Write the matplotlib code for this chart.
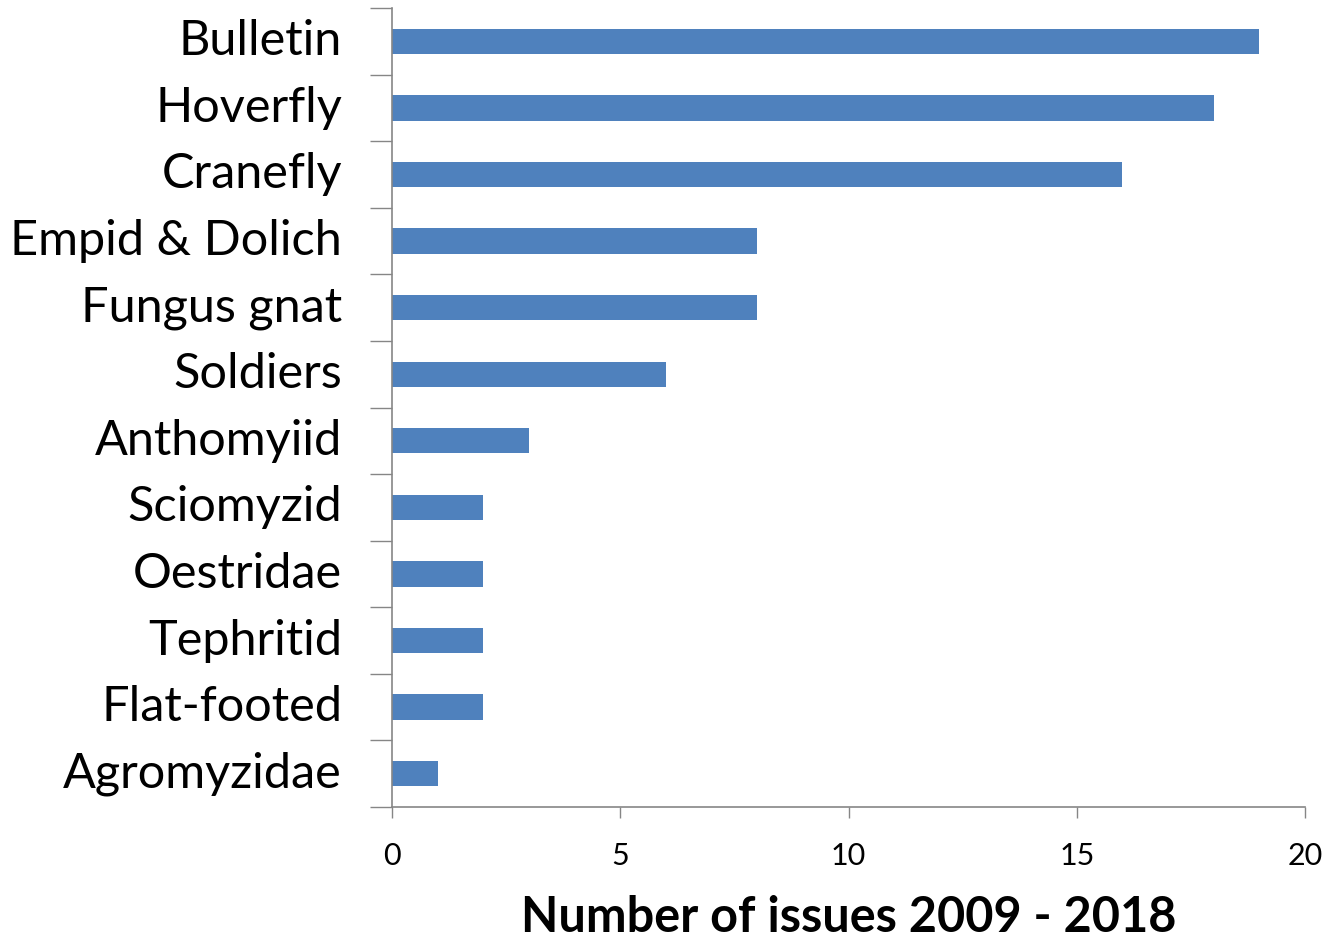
import matplotlib.pyplot as plt
import matplotlib.transforms as mtransforms
import numpy as np

# 데이터
categories = ["Bulletin", "Hoverfly", "Cranefly", "Empid & Dolich", "Fungus gnat",
              "Soldiers", "Anthomyiid", "Sciomyzid", "Oestridae", "Tephritid",
              "Flat-footed", "Agromyzidae"]
issues = [19, 18, 16, 8, 8, 6, 3, 2, 2, 2, 2, 1]
xticks = [0, 5, 10, 15, 20]

axis_grey = "#868686"
bar_blue = "#4F81BD"

fig = plt.figure(figsize=(13.29, 9.41), dpi=100)
ax = fig.add_axes([0.295, 0.1424, 0.687, 0.8491])

# 위에서부터 순서대로 그리기
ypos = np.arange(len(categories))[::-1]
ax.barh(ypos, issues, height=0.38, color=bar_blue)

ax.set_xlim(0, 20)
ax.set_ylim(-0.5, len(categories) - 0.5)

# x축
ax.set_xticks(xticks)
ax.set_xticklabels([str(t) for t in xticks], family=["Lato", "DejaVu Sans"], fontsize=22)
ax.tick_params(axis="x", direction="out", length=8, width=1, color=axis_grey, pad=17)

# y축: 눈금은 경계에, 라벨은 가운데에
ax.set_yticks(np.arange(-0.5, len(categories), 1.0))
ax.set_yticklabels([])
ax.tick_params(axis="y", which="major", direction="out", length=16, width=1, color=axis_grey)
ax.set_yticks(ypos, minor=True)
ax.set_yticklabels(categories, minor=True, family=["Lato", "DejaVu Sans"], fontsize=35)
ax.tick_params(axis="y", which="minor", length=0, pad=36)

shift = mtransforms.ScaledTranslation(0, 4 / 100, fig.dpi_scale_trans)
for lab in ax.get_yticklabels(minor=True):
    lab.set_transform(lab.get_transform() + shift)

for s in ["top", "right"]:
    ax.spines[s].set_visible(False)
for s in ["left", "bottom"]:
    ax.spines[s].set_color(axis_grey)
    ax.spines[s].set_linewidth(1.2)

ax.set_xlabel("Number of issues 2009 - 2018", family=["Lato", "DejaVu Sans"],
              fontsize=35, fontweight="bold", labelpad=18)

fig.savefig("out.png", dpi=100)
